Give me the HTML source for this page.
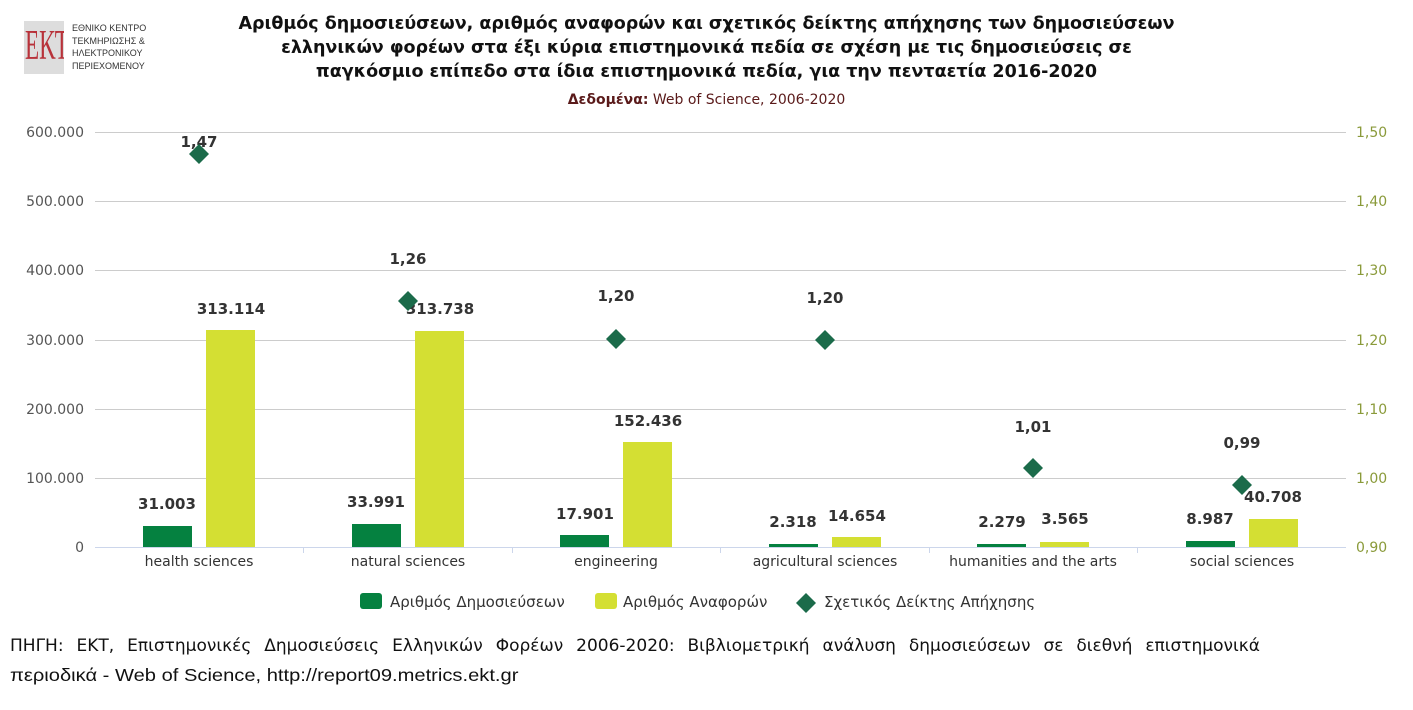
<!DOCTYPE html>
<html><head><meta charset="utf-8"><style>
body{margin:0;width:1413px;height:710px;background:#fff;overflow:hidden;position:relative;font-family:"DejaVu Sans","Liberation Sans",sans-serif}
.t{position:absolute;white-space:nowrap}
</style></head><body>
<div class="t" style="left:24px;top:21px;width:40px;height:53px;background:#ddd;overflow:hidden"><div style="font-family:'Liberation Serif',serif;font-size:42px;color:#b8323a;line-height:50px;transform:scaleX(0.55);transform-origin:left;margin-left:1px">ΕΚΤ</div></div>
<div class="t" style="left:72px;top:22px;font-size:9px;line-height:12.5px;color:#333;font-family:'Liberation Sans',sans-serif">ΕΘΝΙΚΟ ΚΕΝΤΡΟ<br>ΤΕΚΜΗΡΙΩΣΗΣ &amp;<br>ΗΛΕΚΤΡΟΝΙΚΟΥ<br>ΠΕΡΙΕΧΟΜΕΝΟΥ</div>
<div class="t" style="left:0;width:1413px;top:12px;text-align:center;font-weight:bold;font-size:17.5px;line-height:24px;color:#111">Αριθμός δημοσιεύσεων, αριθμός αναφορών και σχετικός δείκτης απήχησης των δημοσιεύσεων<br>ελληνικών φορέων στα έξι κύρια επιστημονικά πεδία σε σχέση με τις δημοσιεύσεις σε<br>παγκόσμιο επίπεδο στα ίδια επιστημονικά πεδία, για την πενταετία 2016-2020</div>
<div class="t" style="left:0;width:1413px;top:92px;text-align:center;font-size:14px;color:#5a1a1a"><b>Δεδομένα:</b> Web of Science, 2006-2020</div>
<svg class="t" style="left:0;top:0" width="1413" height="710" font-family="DejaVu Sans, Liberation Sans, sans-serif">
<g stroke="#ccc" stroke-width="1">
<line x1="95" x2="1346" y1="132.5" y2="132.5"/><line x1="95" x2="1346" y1="201.5" y2="201.5"/><line x1="95" x2="1346" y1="270.5" y2="270.5"/><line x1="95" x2="1346" y1="340.5" y2="340.5"/><line x1="95" x2="1346" y1="409.5" y2="409.5"/><line x1="95" x2="1346" y1="478.5" y2="478.5"/>
</g>
<line x1="95" x2="1346" y1="547.5" y2="547.5" stroke="#ccd6eb"/>
<g stroke="#ccd6eb"><line x1="303.5" x2="303.5" y1="547" y2="553"/><line x1="512.5" x2="512.5" y1="547" y2="553"/><line x1="720.5" x2="720.5" y1="547" y2="553"/><line x1="929.5" x2="929.5" y1="547" y2="553"/><line x1="1137.5" x2="1137.5" y1="547" y2="553"/></g>
<g font-size="14" fill="#555" text-anchor="end">
<text x="84" y="137">600.000</text><text x="84" y="206">500.000</text><text x="84" y="275">400.000</text><text x="84" y="345">300.000</text><text x="84" y="414">200.000</text><text x="84" y="483">100.000</text><text x="84" y="552">0</text></g>
<g font-size="14" fill="#8a9a3a">
<text x="1356" y="137">1,50</text><text x="1356" y="206">1,40</text><text x="1356" y="275">1,30</text><text x="1356" y="345">1,20</text><text x="1356" y="414">1,10</text><text x="1356" y="483">1,00</text><text x="1356" y="552">0,90</text></g>
<g font-size="14" fill="#333" text-anchor="middle">
<text x="199" y="566">health sciences</text><text x="408" y="566">natural sciences</text><text x="616" y="566">engineering</text><text x="825" y="566">agricultural sciences</text><text x="1033" y="566">humanities and the arts</text><text x="1242" y="566">social sciences</text></g>
<g fill="#058140">
<rect x="143" y="526" width="49" height="21"/><rect x="352" y="524" width="49" height="23"/><rect x="560" y="535" width="49" height="12"/><rect x="769" y="544" width="49" height="3"/><rect x="977" y="544" width="49" height="3"/><rect x="1186" y="541" width="49" height="6"/></g>
<g fill="#d4df33">
<rect x="206" y="330" width="49" height="217"/><rect x="415" y="331" width="49" height="216"/><rect x="623" y="442" width="49" height="105"/><rect x="832" y="537" width="49" height="10"/><rect x="1040" y="542" width="49" height="5"/><rect x="1249" y="519" width="49" height="28"/></g>
<g font-size="15" font-weight="bold" fill="#333" text-anchor="middle">
<text x="167" y="509">31.003</text><text x="376" y="507">33.991</text><text x="585" y="519">17.901</text><text x="793" y="527">2.318</text><text x="1002" y="527">2.279</text><text x="1210" y="524">8.987</text>
<text x="231" y="314">313.114</text><text x="440" y="314">313.738</text><text x="648" y="426">152.436</text><text x="857" y="521">14.654</text><text x="1065" y="524">3.565</text><text x="1273" y="502">40.708</text>
<text x="199" y="147">1,47</text><text x="408" y="264">1,26</text><text x="616" y="301">1,20</text><text x="825" y="303">1,20</text><text x="1033" y="432">1,01</text><text x="1242" y="448">0,99</text></g>
<g fill="#1b6b4a">
<path d="M199 144l10 10-10 10-10-10z"/><path d="M408 291l10 10-10 10-10-10z"/><path d="M616 329l10 10-10 10-10-10z"/><path d="M825 330l10 10-10 10-10-10z"/><path d="M1033 458l10 10-10 10-10-10z"/><path d="M1242 475l10 10-10 10-10-10z"/></g>
<rect x="360" y="593" width="22" height="16" rx="3" fill="#058140"/>
<text x="390" y="607" font-size="15" fill="#333">Αριθμός Δημοσιεύσεων</text>
<rect x="595" y="593" width="22" height="16" rx="3" fill="#d4df33"/>
<text x="623" y="607" font-size="15" fill="#333">Αριθμός Αναφορών</text>
<path d="M806 593l10 10-10 10-10-10z" fill="#1b6b4a"/>
<text x="824" y="607" font-size="15" fill="#333">Σχετικός Δείκτης Απήχησης</text>
</svg>
<div class="t" style="left:10px;top:632px;width:1250px;text-align:justify;text-align-last:justify;font-family:'DejaVu Sans',sans-serif;font-size:17px;line-height:29px;color:#111">ΠΗΓΗ: ΕΚΤ, Επιστημονικές Δημοσιεύσεις Ελληνικών Φορέων 2006-2020: Βιβλιομετρική ανάλυση δημοσιεύσεων σε διεθνή επιστημονικά</div>
<div class="t" style="left:10px;top:661px;font-family:'Liberation Sans',sans-serif;font-size:17.5px;line-height:29px;color:#111;transform:scaleX(1.15);transform-origin:left">περιοδικά - Web of Science, http://report09.metrics.ekt.gr</div>
</body></html>
